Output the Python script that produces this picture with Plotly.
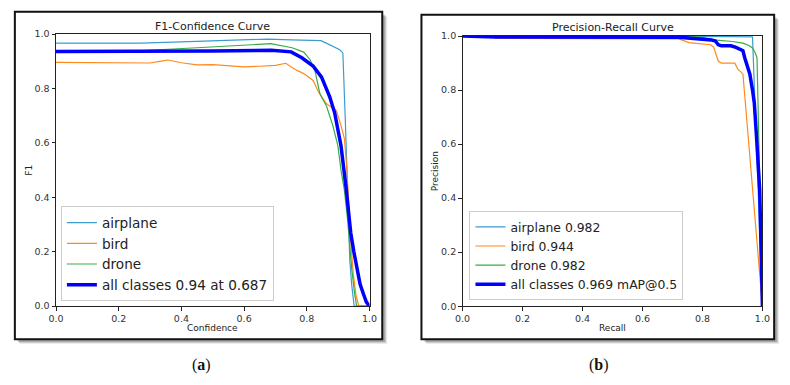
import plotly.graph_objects as go

W, H = 790, 385

# ---------------- data: F1-Confidence ----------------
f1_airplane_x = [0, 0.27, 0.4, 0.55, 0.675, 0.75, 0.845, 0.862, 0.888, 0.905, 0.915, 0.92, 0.923, 0.928, 0.932, 0.937, 0.943, 0.951, 1.0]
f1_airplane_y = [0.967, 0.967, 0.972, 0.976, 0.982, 0.979, 0.976, 0.967, 0.952, 0.943, 0.93, 0.80, 0.675, 0.50, 0.32, 0.17, 0.08, 0.0, 0.0]

f1_bird_x = [0, 0.26, 0.3, 0.33, 0.357, 0.4, 0.45, 0.5, 0.55, 0.6, 0.65, 0.7, 0.733, 0.763, 0.79, 0.82, 0.836, 0.862, 0.88, 0.894, 0.91, 0.92, 0.928, 0.934, 0.94, 0.948, 0.957, 0.966, 1.0]
f1_bird_y = [0.896, 0.896, 0.894, 0.90, 0.905, 0.895, 0.887, 0.888, 0.885, 0.88, 0.882, 0.885, 0.893, 0.87, 0.855, 0.83, 0.79, 0.745, 0.73, 0.72, 0.66, 0.615, 0.50, 0.36, 0.24, 0.12, 0.04, 0.0, 0.0]

f1_drone_x = [0, 0.28, 0.45, 0.6, 0.685, 0.753, 0.79, 0.81, 0.826, 0.842, 0.863, 0.883, 0.899, 0.909, 0.92, 0.93, 0.943, 0.952, 0.959, 1.0]
f1_drone_y = [0.94, 0.94, 0.95, 0.958, 0.965, 0.95, 0.934, 0.907, 0.865, 0.78, 0.735, 0.664, 0.59, 0.50, 0.425, 0.318, 0.14, 0.05, 0.0, 0.0]

f1_all_x = [0, 0.3, 0.5, 0.687, 0.75, 0.784, 0.82, 0.847, 0.873, 0.889, 0.909, 0.925, 0.94, 0.95, 0.961, 0.97, 0.982, 0.99, 1.0]
f1_all_y = [0.936, 0.936, 0.938, 0.941, 0.935, 0.913, 0.883, 0.842, 0.77, 0.71, 0.59, 0.437, 0.27, 0.20, 0.13, 0.08, 0.04, 0.015, 0.0]

# ---------------- data: Precision-Recall ----------------
pr_airplane_r = [0, 0.5, 0.9, 0.967, 1.0]
pr_airplane_p = [1.0, 1.0, 0.998, 0.997, 0.0]

pr_bird_r = [0, 0.108, 0.11, 0.5, 0.72, 0.733, 0.755, 0.827, 0.837, 0.846, 0.853, 0.863, 0.908, 0.918, 0.928, 0.935, 1.0]
pr_bird_p = [1.0, 1.0, 0.992, 0.992, 0.99, 0.985, 0.976, 0.968, 0.96, 0.93, 0.907, 0.90, 0.90, 0.878, 0.866, 0.86, 0.0]

pr_drone_r = [0, 0.75, 0.8, 0.837, 0.9, 0.935, 0.955, 0.967, 0.975, 0.982, 1.0]
pr_drone_p = [1.0, 1.0, 0.995, 0.986, 0.98, 0.974, 0.965, 0.956, 0.94, 0.92, 0.0]

pr_all_r = [0, 0.108, 0.11, 0.72, 0.733, 0.755, 0.83, 0.843, 0.853, 0.863, 0.895, 0.912, 0.935, 0.941, 0.958, 0.967, 0.973, 0.98, 0.987, 0.991, 1.0]
pr_all_p = [1.0, 1.0, 0.997, 0.996, 0.995, 0.992, 0.986, 0.982, 0.968, 0.964, 0.964, 0.958, 0.946, 0.92, 0.86, 0.80, 0.752, 0.633, 0.51, 0.43, 0.0]

f1_names = ["airplane", "bird", "drone", "all classes 0.94 at 0.687"]
pr_names = ["airplane 0.982", "bird 0.944", "drone 0.982", "all classes 0.969 mAP@0.5"]
tick_vals = [0, 0.2, 0.4, 0.6, 0.8, 1.0]
tick_text = ["0.0", "0.2", "0.4", "0.6", "0.8", "1.0"]

C_AIR = "#3d9bd0"
C_BIRD = "#ff8a1c"
C_DRONE = "#35ac45"
C_ALL = "#0000ff"

FONT = "DejaVu Sans"

fig = go.Figure()

def add(x, y, name, color, width, xa, ya, legend):
    fig.add_trace(go.Scatter(x=x, y=y, name=name, mode="lines",
                             line=dict(color=color, width=width),
                             xaxis=xa, yaxis=ya, legend=legend))

add(f1_airplane_x, f1_airplane_y, f1_names[0], C_AIR, 1.2, "x", "y", "legend")
add(f1_bird_x, f1_bird_y, f1_names[1], C_BIRD, 1.2, "x", "y", "legend")
add(f1_drone_x, f1_drone_y, f1_names[2], C_DRONE, 1.2, "x", "y", "legend")
add(f1_all_x, f1_all_y, f1_names[3], C_ALL, 3.5, "x", "y", "legend")

add(pr_airplane_r, pr_airplane_p, pr_names[0], C_AIR, 1.2, "x2", "y2", "legend2")
add(pr_bird_r, pr_bird_p, pr_names[1], C_BIRD, 1.2, "x2", "y2", "legend2")
add(pr_drone_r, pr_drone_p, pr_names[2], C_DRONE, 1.2, "x2", "y2", "legend2")
add(pr_all_r, pr_all_p, pr_names[3], C_ALL, 3.5, "x2", "y2", "legend2")

def px(v):
    return v / W

def py(v):
    return 1 - v / H

axis_common = dict(range=[0, 1], showgrid=False, zeroline=False, showline=True,
                   linecolor="#222", linewidth=1, mirror=True, ticks="outside",
                   ticklen=3.5, tickwidth=1, tickcolor="#222",
                   tickvals=tick_vals, ticktext=tick_text,
                   tickfont=dict(family=FONT, size=9.5, color="#333"))

fig.update_layout(
    width=W, height=H, margin=dict(l=0, r=0, t=0, b=0),
    paper_bgcolor="white", plot_bgcolor="white",
    xaxis=dict(domain=[px(49), px(369)], anchor="y", **axis_common),
    yaxis=dict(domain=[py(309), py(29)], anchor="x", **axis_common),
    xaxis2=dict(domain=[px(464), px(770)], anchor="y2", **axis_common),
    yaxis2=dict(domain=[py(309), py(31)], anchor="x2", **axis_common),
    legend=dict(x=px(54), y=py(304), xanchor="left", yanchor="bottom",
                bgcolor="white", bordercolor="#cccccc", borderwidth=1,
                font=dict(family=FONT, size=13.6, color="#222"),
                tracegroupgap=0, itemwidth=30),
    legend2=dict(x=px(471), y=py(303), xanchor="left", yanchor="bottom",
                 bgcolor="white", bordercolor="#cccccc", borderwidth=1,
                 font=dict(family=FONT, size=12.4, color="#222"),
                 tracegroupgap=0, itemwidth=30),
    showlegend=True,
)

# frames with drop shadow
shapes = []
for (x0, y0, x1, y1) in [(7, 6, 382, 343), (422, 9, 782, 343)]:
    for off, col in [(5, "rgba(0,0,0,0.08)"), (4, "rgba(0,0,0,0.12)"), (3, "rgba(0,0,0,0.18)")]:
        shapes.append(dict(type="rect", xref="paper", yref="paper",
                           x0=px(x0 + off), x1=px(x1 + off), y0=py(y1 + off), y1=py(y0 + off),
                           line=dict(width=0), fillcolor=col, layer="below"))
    shapes.append(dict(type="rect", xref="paper", yref="paper",
                       x0=px(x0), x1=px(x1), y0=py(y1), y1=py(y0),
                       line=dict(color="#111", width=2), fillcolor="white", layer="below"))
fig.update_layout(shapes=shapes)

ann = []
def text(x, y, t, size, angle=0, family=FONT, color="#222"):
    ann.append(dict(x=px(x), y=py(y), xref="paper", yref="paper", text=t,
                    showarrow=False, xanchor="center", yanchor="middle",
                    textangle=angle, font=dict(family=family, size=size, color=color)))

text(209, 21, "F1-Confidence Curve", 11)
text(617, 22, "Precision-Recall Curve", 11)
text(209, 331, "Confidence", 9)
text(617, 331, "Recall", 9)
text(22, 169, "F1", 9, angle=-90)
text(436, 170, "Precision", 9, angle=-90)
text(197, 370, "(<b>a</b>)", 16, family="Liberation Serif", color="#111")
text(603, 370, "(<b>b</b>)", 16, family="Liberation Serif", color="#111")
fig.update_layout(annotations=ann)

fig.write_html("out.html")
